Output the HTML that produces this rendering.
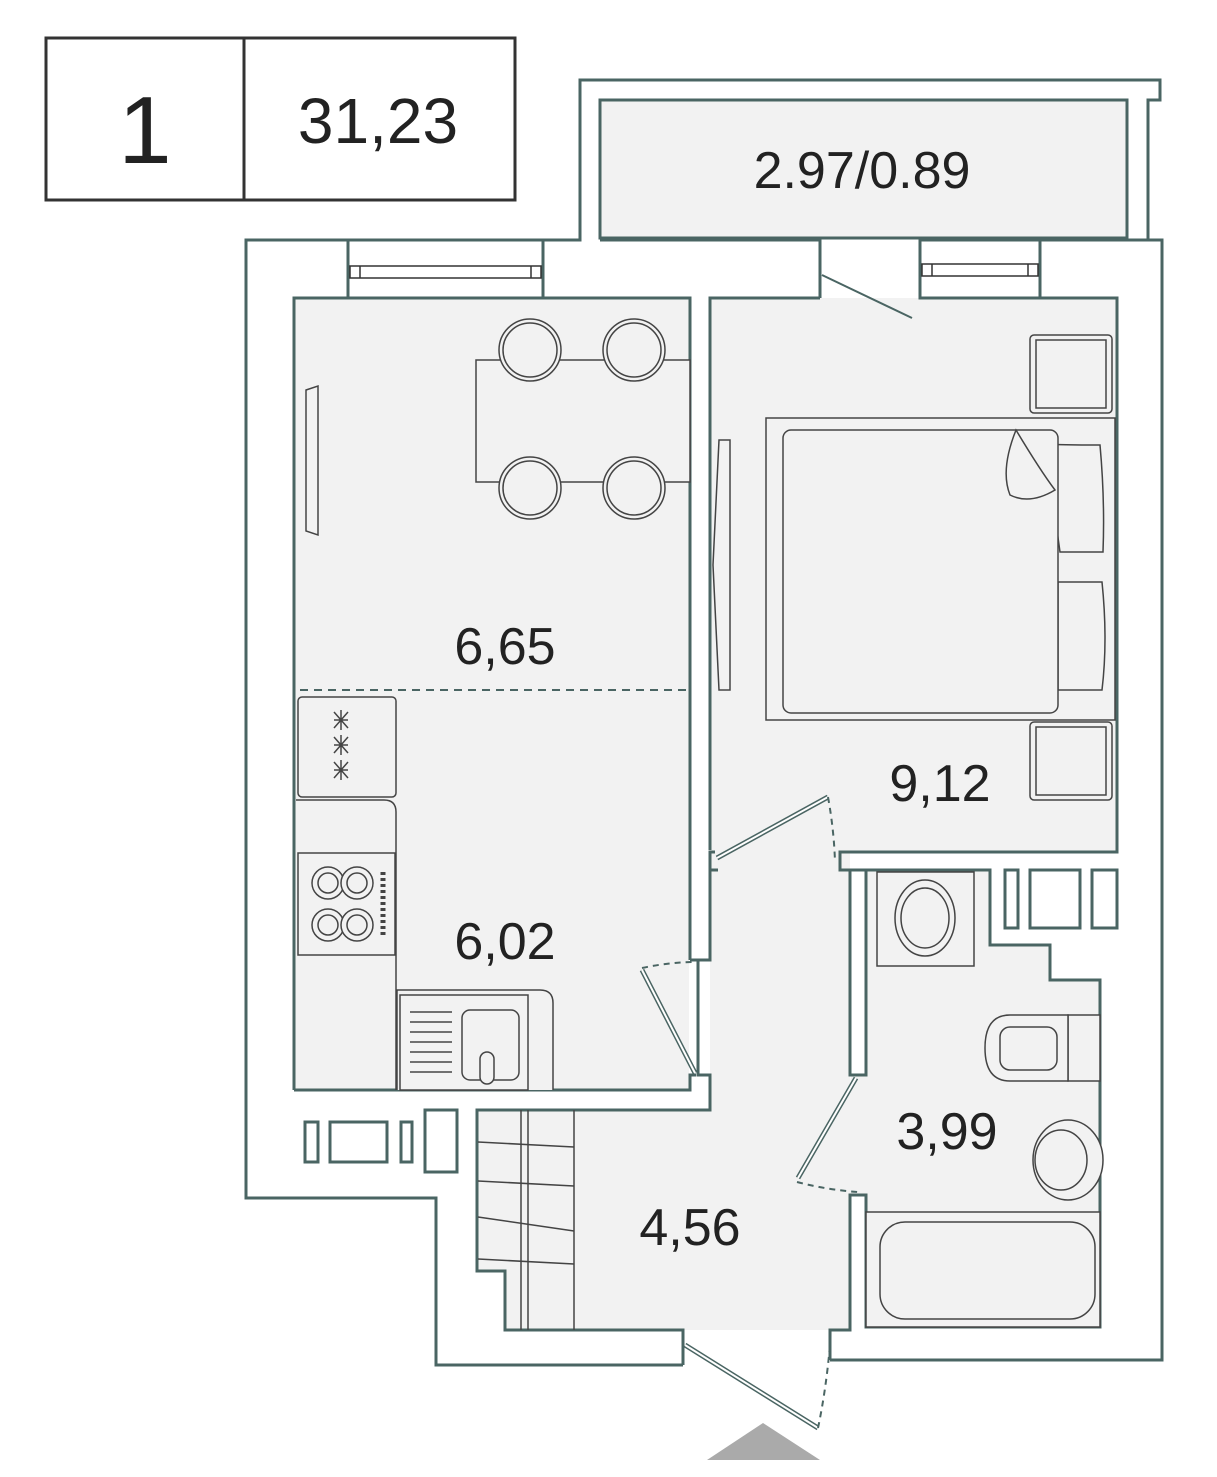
<!DOCTYPE html>
<html><head><meta charset="utf-8"><style>
html,body{margin:0;padding:0;background:#fff;}
svg{display:block;}
text{font-family:"Liberation Sans",sans-serif;fill:#222;}
</style></head><body>
<svg width="1217" height="1477" viewBox="0 0 1217 1477" xmlns="http://www.w3.org/2000/svg">
<!-- header -->
<rect x="46" y="38" width="469" height="162" fill="#fff" stroke="#333" stroke-width="3"/>
<line x1="244" y1="38" x2="244" y2="200" stroke="#333" stroke-width="3"/>
<text x="145" y="163" font-size="96" text-anchor="middle">1</text>
<text x="378" y="143" font-size="64" text-anchor="middle">31,23</text>

<g stroke="#4a6563" stroke-width="3" stroke-linejoin="miter">
<!-- outer walls -->
<path d="M830,1360 H1162 V240 H1148 V100 H1160 V80 H580 V240 H246 V1198 H436 V1365 H683" fill="#fff"/>
<!-- balcony -->
<rect x="600" y="100" width="527" height="138" fill="#f2f2f2"/>
<!-- corridor region -->
<path d="M477,1110 H710 V852 H850 V1330 H505 V1271 H477 Z" fill="#f2f2f2" stroke="none"/>
<!-- kitchen -->
<rect x="295" y="299" width="394" height="790" fill="#f2f2f2" stroke="none"/>
<path d="M294,1090 V298 H348 M543,298 H690 V960" fill="none"/>
<path d="M690,960 H698 V1075 H710 V1110 H477 V1271 H505 V1330 H683 V1365 M696,1075 H690 V1090 H294" fill="none"/>
<!-- bedroom -->
<rect x="710" y="298" width="407" height="554" fill="#f2f2f2" stroke="none"/>
<path d="M710,850 V298 H820 M1040,298 H1117 V852 H840 V870 H852" fill="none"/>
<path d="M715,852 H710 V870 H718 M820,298 V240 H600 M920,298 V240 M1040,298 V240 H1148" fill="none"/>
<path d="M710,870 V960 H698" fill="none"/>
<!-- bathroom -->
<path d="M866,870 H990 V945 H1050 V980 H1100 V1327 H866 V1195 H850 V1330 H830 V1360" fill="#f2f2f2"/>
<path d="M866,870 V1075 H850 V870 Z" fill="#fff"/>
<path d="M866,1195 H850 V1330" fill="none"/>
<!-- windows -->
<rect x="348" y="240" width="195" height="58" fill="#fff"/>
<rect x="920" y="240" width="120" height="58" fill="#fff"/>
</g>
<!-- window sashes -->
<g stroke="#333" stroke-width="1.5" fill="none">
<rect x="350" y="266" width="191" height="12"/><line x1="360" y1="266" x2="360" y2="278"/><line x1="531" y1="266" x2="531" y2="278"/>
<rect x="922" y="264" width="116" height="12"/><line x1="932" y1="264" x2="932" y2="276"/><line x1="1028" y1="264" x2="1028" y2="276"/>
</g>
<line x1="822" y1="275" x2="912" y2="318" stroke="#4a6563" stroke-width="2"/>

<!-- kitchen furniture -->
<g stroke="#444" stroke-width="1.5" fill="#f2f2f2">
<rect x="476" y="360" width="214" height="122"/>
<circle cx="530" cy="350" r="31"/><circle cx="530" cy="350" r="27"/>
<circle cx="634" cy="350" r="31"/><circle cx="634" cy="350" r="27"/>
<circle cx="530" cy="488" r="31"/><circle cx="530" cy="488" r="27"/>
<circle cx="634" cy="488" r="31"/><circle cx="634" cy="488" r="27"/>
<path d="M306,390 L318,386 V535 L306,531 Z"/>
<rect x="298" y="697" width="98" height="100" rx="4"/>
<path d="M296,800 H384 Q396,800 396,812 V1090"/>
<rect x="298" y="853" width="97" height="102"/>
<circle cx="328" cy="883" r="16"/><circle cx="328" cy="883" r="10"/>
<circle cx="357" cy="883" r="16"/><circle cx="357" cy="883" r="10"/>
<circle cx="328" cy="925" r="16"/><circle cx="328" cy="925" r="10"/>
<circle cx="357" cy="925" r="16"/><circle cx="357" cy="925" r="10"/>
<path d="M397,1090 V990 H540 Q553,990 553,1003 V1090"/>
<rect x="400" y="995" width="128" height="95"/>
<rect x="462" y="1010" width="57" height="70" rx="8"/>
<rect x="480" y="1052" width="14" height="32" rx="7"/>
</g>
<g stroke="#444" stroke-width="1.5" fill="none">
<line x1="383" y1="872" x2="383" y2="936" stroke-dasharray="3,3" stroke-width="5"/>
<line x1="410" y1="1012" x2="452" y2="1012"/><line x1="410" y1="1022" x2="452" y2="1022"/><line x1="410" y1="1032" x2="452" y2="1032"/><line x1="410" y1="1042" x2="452" y2="1042"/><line x1="410" y1="1052" x2="452" y2="1052"/><line x1="410" y1="1062" x2="452" y2="1062"/><line x1="410" y1="1072" x2="452" y2="1072"/>
<path d="M334,712 L348,728 M348,712 L334,728 M341,710 V730 M334,720 H348"/>
<path d="M334,737 L348,753 M348,737 L334,753 M341,735 V755 M334,745 H348"/>
<path d="M334,762 L348,778 M348,762 L334,778 M341,760 V780 M334,770 H348"/>
</g>
<line x1="300" y1="690" x2="690" y2="690" stroke="#4a6563" stroke-width="2" stroke-dasharray="8,6"/>

<!-- bedroom furniture -->
<g stroke="#444" stroke-width="1.5" fill="#f2f2f2">
<rect x="1030" y="335" width="82" height="78" rx="4"/><rect x="1036" y="340" width="70" height="68"/>
<rect x="1030" y="722" width="82" height="78" rx="4"/><rect x="1036" y="727" width="70" height="68"/>
<rect x="766" y="418" width="349" height="302"/>
<path d="M1045,444 Q1060,445 1100,445 Q1105,500 1103,552 H1060 Z"/>
<path d="M1058,582 H1102 Q1108,640 1102,690 H1058 Z"/>
<rect x="783" y="430" width="275" height="283" rx="8"/>
<path d="M1016,430 Q1040,470 1055,490 Q1030,505 1010,495 Q1000,470 1016,430 Z"/>
<path d="M719,440 L730,440 V690 L719,690 L713,565 Z"/>
</g>
<!-- bathroom fixtures -->
<g stroke="#444" stroke-width="1.5" fill="#f2f2f2">
<rect x="877" y="872" width="97" height="94"/>
<ellipse cx="925" cy="918" rx="30" ry="38"/><ellipse cx="925" cy="918" rx="24" ry="30" fill="none"/>
<rect x="1068" y="1015" width="32" height="66"/>
<path d="M1068,1015 H1010 Q985,1015 985,1048 Q985,1081 1010,1081 H1068 Z"/>
<rect x="1000" y="1027" width="57" height="43" rx="10"/>
<ellipse cx="1068" cy="1160" rx="35" ry="40"/><ellipse cx="1061" cy="1160" rx="26" ry="30"/>
<rect x="866" y="1212" width="234" height="115"/>
<rect x="880" y="1222" width="215" height="97" rx="25"/>
<rect x="1005" y="870" width="13" height="58" fill="#fff" stroke="#4a6563" stroke-width="3"/>
<rect x="1030" y="870" width="50" height="58" fill="#fff" stroke="#4a6563" stroke-width="3"/>
<rect x="1092" y="870" width="25" height="58" fill="#fff" stroke="#4a6563" stroke-width="3"/>
</g>
<!-- corridor wardrobe -->
<g stroke="#444" stroke-width="1.5" fill="none">
<line x1="574" y1="1110" x2="574" y2="1330"/><line x1="521" y1="1110" x2="521" y2="1330"/><line x1="528" y1="1110" x2="528" y2="1330"/>
<line x1="478" y1="1142" x2="574" y2="1147"/><line x1="478" y1="1181" x2="574" y2="1186"/><line x1="478" y1="1217" x2="574" y2="1231"/><line x1="478" y1="1259" x2="574" y2="1264"/>
</g>
<!-- outside small items -->
<g stroke="#4a6563" stroke-width="3" fill="#fff">
<rect x="305" y="1122" width="13" height="40"/><rect x="330" y="1122" width="57" height="40"/>
<rect x="401" y="1122" width="11" height="40"/><rect x="425" y="1110" width="32" height="62"/>
</g>
<!-- doors -->
<g stroke="#4a6563" stroke-width="5">
<line x1="695" y1="1073" x2="642" y2="970"/>
<line x1="717" y1="858" x2="828" y2="797"/>
<line x1="856" y1="1078" x2="798" y2="1178"/>
<line x1="685" y1="1345" x2="818" y2="1428"/>
</g>
<g stroke="#fff" stroke-width="2">
<line x1="695" y1="1073" x2="642" y2="970"/>
<line x1="717" y1="858" x2="828" y2="797"/>
<line x1="856" y1="1078" x2="798" y2="1178"/>
<line x1="685" y1="1345" x2="818" y2="1428"/>
</g>
<g stroke="#4a6563" stroke-width="2" stroke-dasharray="6,5" fill="none">
<path d="M642,968 Q670,962 697,962"/>
<path d="M828,797 Q834,830 835,862"/>
<path d="M797,1182 Q828,1190 858,1192"/>
<path d="M818,1428 Q826,1390 830,1345"/>
</g>
<polygon points="707,1460 820,1460 763,1423" fill="#aaa"/>

<!-- labels -->
<g font-size="52" text-anchor="middle">
<text x="862" y="188">2.97/0.89</text>
<text x="505" y="664">6,65</text>
<text x="505" y="959">6,02</text>
<text x="940" y="801">9,12</text>
<text x="947" y="1149">3,99</text>
<text x="690" y="1245">4,56</text>
</g>
</svg>
</body></html>
